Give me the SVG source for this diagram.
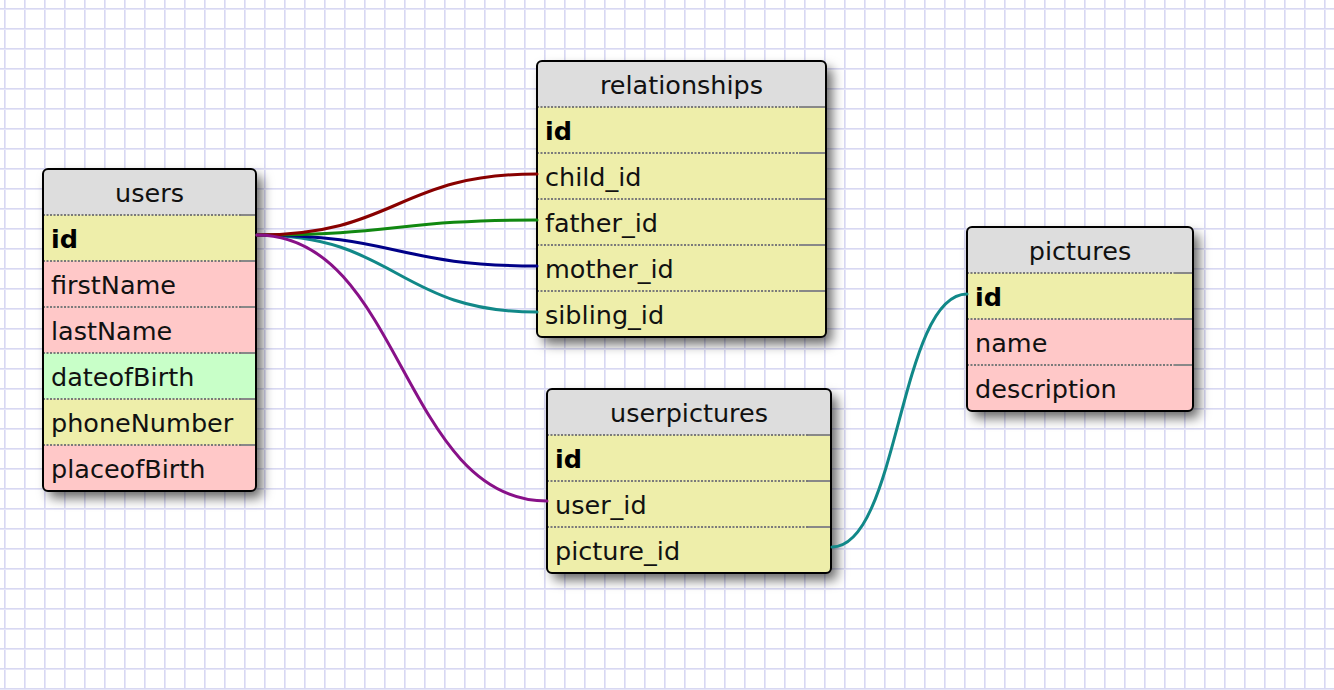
<svg xmlns="http://www.w3.org/2000/svg" width="1334" height="690" viewBox="0 0 1334 690">
<style>
  .hdr{fill:#dddddd}
  .num{fill:#eeeeaa}
  .chr{fill:#ffc8c8}
  .dt{fill:#c8ffc8}
  .box{fill:none;stroke:#000;stroke-width:2}
  .shadow{fill:#fff;filter:url(#sh)}
  .sep{stroke:#7a7a7a;stroke-width:2;stroke-dasharray:2 1.5}
  .sepe{stroke:#888;stroke-width:2}
  .t{font-family:"DejaVu Sans","Verdana",sans-serif;font-size:25.5px;fill:#111}
  .th{text-anchor:middle}
  .b{font-weight:bold;fill:#000}
  .c{fill:none;stroke-width:3;stroke-linecap:round}
</style>
<defs>
  <pattern id="grid" patternUnits="userSpaceOnUse" x="0" y="0" width="20" height="20">
    <rect width="20" height="20" fill="#ffffff"/>
    <rect x="4" y="0" width="1" height="20" fill="#d8d8f2"/>
    <rect x="5" y="0" width="1" height="20" fill="#e6e6f8"/>
    <rect x="0" y="8" width="20" height="1" fill="#d8d8f2"/>
    <rect x="0" y="9" width="20" height="1" fill="#e6e6f8"/>
  </pattern>
  <filter id="sh" x="-20%" y="-20%" width="150%" height="150%">
    <feDropShadow dx="6" dy="7" stdDeviation="6" flood-color="#000" flood-opacity="0.6"/>
  </filter>
  <clipPath id="cu"><rect x="43" y="169" width="213" height="322" rx="5"/></clipPath>
  <clipPath id="cr"><rect x="537" y="61" width="289" height="276" rx="5"/></clipPath>
  <clipPath id="cup"><rect x="547" y="389" width="284" height="184" rx="5"/></clipPath>
  <clipPath id="cp"><rect x="967" y="227" width="226" height="184" rx="5"/></clipPath>
</defs>
<rect width="1334" height="690" fill="url(#grid)"/>

<g id="users">
  <rect class="shadow" x="43" y="169" width="213" height="322" rx="5"/>
  <g clip-path="url(#cu)">
    <rect class="hdr" x="43" y="169" width="213" height="46"/>
    <rect class="num" x="43" y="215" width="213" height="46"/>
    <rect class="chr" x="43" y="261" width="213" height="46"/>
    <rect class="chr" x="43" y="307" width="213" height="46"/>
    <rect class="dt" x="43" y="353" width="213" height="46"/>
    <rect class="num" x="43" y="399" width="213" height="46"/>
    <rect class="chr" x="43" y="445" width="213" height="46"/>
  </g>
  <path class="sep" d="M43 215H241M43 261H241M43 307H241M43 353H241M43 399H241M43 445H241"/>
  <path class="sepe" d="M241 215H256M241 261H256M241 307H256M241 353H256M241 399H256M241 445H256"/>
  <rect class="box" x="43" y="169" width="213" height="322" rx="5"/>
  <text class="t th" x="149.5" y="202">users</text>
  <text class="t b" x="51" y="248">id</text>
  <text class="t" x="51" y="294">firstName</text>
  <text class="t" x="51" y="340">lastName</text>
  <text class="t" x="51" y="386">dateofBirth</text>
  <text class="t" x="51" y="432">phoneNumber</text>
  <text class="t" x="51" y="478">placeofBirth</text>
</g>

<g id="relationships">
  <rect class="shadow" x="537" y="61" width="289" height="276" rx="5"/>
  <g clip-path="url(#cr)">
    <rect class="hdr" x="537" y="61" width="289" height="46"/>
    <rect class="num" x="537" y="107" width="289" height="230"/>
  </g>
  <path class="sep" d="M537 107H799M537 153H799M537 199H799M537 245H799M537 291H799"/>
  <path class="sepe" d="M799 107H826M799 153H826M799 199H826M799 245H826M799 291H826"/>
  <rect class="box" x="537" y="61" width="289" height="276" rx="5"/>
  <text class="t th" x="681.5" y="94">relationships</text>
  <text class="t b" x="545" y="140">id</text>
  <text class="t" x="545" y="186">child_id</text>
  <text class="t" x="545" y="232">father_id</text>
  <text class="t" x="545" y="278">mother_id</text>
  <text class="t" x="545" y="324">sibling_id</text>
</g>

<g id="userpictures">
  <rect class="shadow" x="547" y="389" width="284" height="184" rx="5"/>
  <g clip-path="url(#cup)">
    <rect class="hdr" x="547" y="389" width="284" height="46"/>
    <rect class="num" x="547" y="435" width="284" height="138"/>
  </g>
  <path class="sep" d="M547 435H808M547 481H808M547 527H808"/>
  <path class="sepe" d="M808 435H831M808 481H831M808 527H831"/>
  <rect class="box" x="547" y="389" width="284" height="184" rx="5"/>
  <text class="t th" x="689" y="422">userpictures</text>
  <text class="t b" x="555" y="468">id</text>
  <text class="t" x="555" y="514">user_id</text>
  <text class="t" x="555" y="560">picture_id</text>
</g>

<g id="pictures">
  <rect class="shadow" x="967" y="227" width="226" height="184" rx="5"/>
  <g clip-path="url(#cp)">
    <rect class="hdr" x="967" y="227" width="226" height="46"/>
    <rect class="num" x="967" y="273" width="226" height="46"/>
    <rect class="chr" x="967" y="319" width="226" height="92"/>
  </g>
  <path class="sep" d="M967 273H1174M967 319H1174M967 365H1174"/>
  <path class="sepe" d="M1174 273H1193M1174 319H1193M1174 365H1193"/>
  <rect class="box" x="967" y="227" width="226" height="184" rx="5"/>
  <text class="t th" x="1080" y="260">pictures</text>
  <text class="t b" x="975" y="306">id</text>
  <text class="t" x="975" y="352">name</text>
  <text class="t" x="975" y="398">description</text>
</g>

<g id="connectors">
  <path class="c" stroke="#118888" d="M257 235C397 235 397 312 537 312"/>
  <path class="c" stroke="#000088" d="M257 235C397 235 397 266 537 266"/>
  <path class="c" stroke="#118811" d="M257 235C397 235 397 220 537 220"/>
  <path class="c" stroke="#880000" d="M257 235C397 235 397 174 537 174"/>
  <path class="c" stroke="#881188" d="M257 235C402 235 402 501 547 501"/>
  <path class="c" stroke="#118888" d="M832 547C899 547 899 294 967 294"/>
</g>
</svg>
